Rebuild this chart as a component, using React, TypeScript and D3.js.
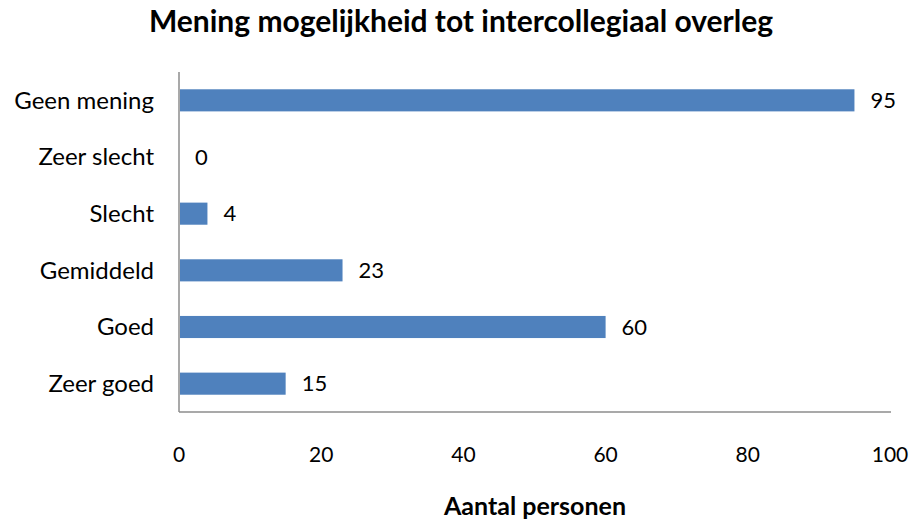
import React, { useRef, useEffect } from "react";
import * as d3 from "d3";

const categories = ["Geen mening", "Zeer slecht", "Slecht", "Gemiddeld", "Goed", "Zeer goed"];
const counts = [95, 0, 4, 23, 60, 15];
const xTicks = [0, 20, 40, 60, 80, 100];

const title = "Mening mogelijkheid tot intercollegiaal overleg";
const xTitle = "Aantal personen";

const App = () => {
  const ref = useRef<SVGSVGElement | null>(null);

  useEffect(() => {
    const width = 915;
    const height = 522;
    const font = "Lato, 'Open Sans', sans-serif";
    const svg = d3.select(ref.current);
    svg.selectAll("*").remove();

    const left = 179;
    const right = 890;
    const top = 72;
    const bottom = 412;

    const x = d3.scaleLinear().domain([0, 100]).range([left, right]);
    const y = d3
      .scaleBand<string>()
      .domain(categories)
      .range([top, bottom])
      .paddingInner(0.61)
      .paddingOuter(0.305);

    const data = categories.map((c, i) => ({ name: c, value: counts[i] }));

    // bars
    svg
      .append("g")
      .selectAll("rect")
      .data(data)
      .enter()
      .append("rect")
      .attr("x", x(0) + 1)
      .attr("y", (d) => y(d.name)!)
      .attr("width", (d) => Math.max(0, x(d.value) - x(0) - 1))
      .attr("height", y.bandwidth())
      .attr("fill", "#4F81BD");

    // axis lines
    svg
      .append("line")
      .attr("x1", left)
      .attr("x2", left)
      .attr("y1", top)
      .attr("y2", bottom)
      .attr("stroke", "#8c8c8c")
      .attr("stroke-width", 1.5);
    svg
      .append("line")
      .attr("x1", left)
      .attr("x2", right + 1)
      .attr("y1", bottom)
      .attr("y2", bottom)
      .attr("stroke", "#8c8c8c")
      .attr("stroke-width", 1.5);

    // category labels
    svg
      .append("g")
      .selectAll("text")
      .data(categories)
      .enter()
      .append("text")
      .attr("x", left - 25)
      .attr("y", (d) => y(d)! + y.bandwidth() / 2)
      .attr("dy", "0.35em")
      .attr("text-anchor", "end")
      .style("font-family", font)
      .style("font-size", "24px")
      .style("fill", "#000")
      .text((d) => d);

    // value labels
    svg
      .append("g")
      .selectAll("text")
      .data(data)
      .enter()
      .append("text")
      .attr("x", (d) => x(d.value) + 16)
      .attr("y", (d) => y(d.name)! + y.bandwidth() / 2)
      .attr("dy", "0.35em")
      .style("font-family", font)
      .style("font-size", "22px")
      .style("fill", "#000")
      .text((d) => d.value);

    // x tick labels
    svg
      .append("g")
      .selectAll("text")
      .data(xTicks)
      .enter()
      .append("text")
      .attr("x", (d) => x(d))
      .attr("y", 455)
      .attr("dy", "0.35em")
      .attr("text-anchor", "middle")
      .style("font-family", font)
      .style("font-size", "21px")
      .style("fill", "#000")
      .text((d) => d);

    svg
      .append("text")
      .attr("x", 535)
      .attr("y", 506)
      .attr("dy", "0.35em")
      .attr("text-anchor", "middle")
      .style("font-family", font)
      .style("font-size", "25px")
      .style("font-weight", "bold")
      .text(xTitle);

    svg
      .append("text")
      .attr("x", 461)
      .attr("y", 21)
      .attr("dy", "0.35em")
      .attr("text-anchor", "middle")
      .style("font-family", font)
      .style("font-size", "30px")
      .style("font-weight", "bold")
      .text(title);

    svg.attr("width", width).attr("height", height);
  }, []);

  return (
    <svg
      ref={ref}
      width={915}
      height={522}
      style={{ position: "absolute", left: 0, top: 0, background: "#fff" }}
    />
  );
};

export default App;
